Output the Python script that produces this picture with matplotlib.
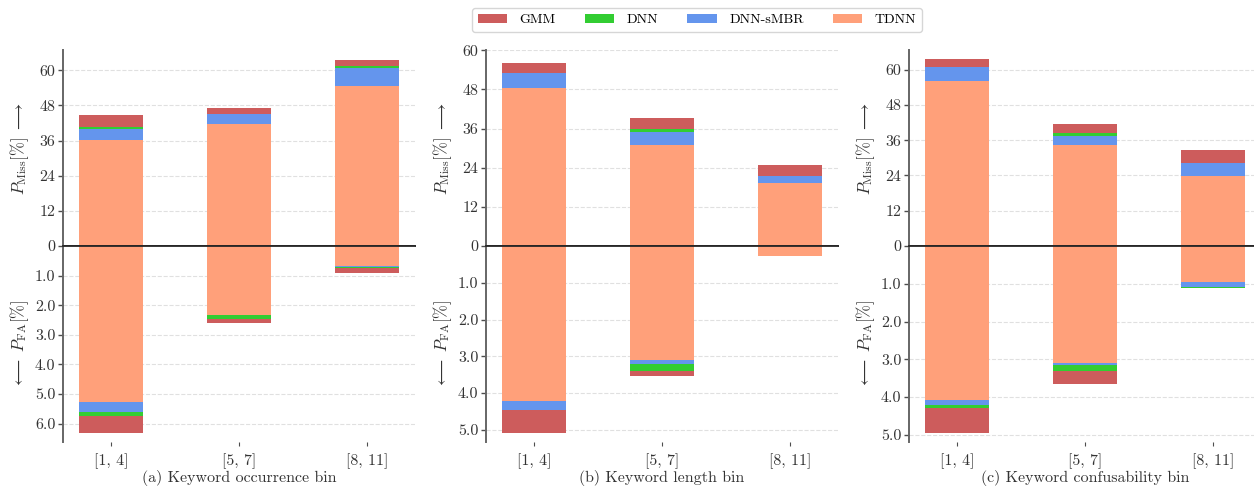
import numpy as np
import matplotlib
matplotlib.use('Agg')
import matplotlib.pyplot as plt

plt.rcParams['font.family'] = 'serif'
plt.rcParams['font.serif'] = ['cmr10']
plt.rcParams['mathtext.fontset'] = 'cm'
plt.rcParams['axes.formatter.use_mathtext'] = True

models = ['GMM', 'DNN', 'DNN-sMBR', 'TDNN']
colors = ['indianred', 'limegreen', 'cornflowerblue', 'lightsalmon']
bins = ['[1, 4]', '[5, 7]', '[8, 11]']

# rows: GMM, DNN, DNN-sMBR, TDNN ; columns: bins
miss_occ = [[44.7, 47.1, 63.5],
            [40.6, 44.0, 61.5],
            [39.9, 45.0, 60.7],
            [36.2, 41.6, 54.6]]
fa_occ = [[6.32, 2.60, 0.91],
          [5.74, 2.48, 0.74],
          [5.62, 2.30, 0.71],
          [5.28, 2.34, 0.67]]

miss_len = [[56.1, 39.3, 24.8],
            [52.0, 36.0, 21.0],
            [52.9, 35.1, 21.5],
            [48.6, 31.0, 19.3]]
fa_len = [[5.08, 3.54, 0.25],
          [4.40, 3.41, 0.25],
          [4.47, 3.20, 0.25],
          [4.22, 3.11, 0.27]]

miss_conf = [[63.6, 41.5, 32.7],
             [60.0, 38.4, 27.0],
             [60.9, 37.6, 28.2],
             [56.1, 34.4, 23.9]]
fa_conf = [[4.95, 3.65, 1.05],
           [4.29, 3.31, 1.11],
           [4.21, 3.16, 1.09],
           [4.08, 3.10, 0.96]]

panel_titles = ['(a) Keyword occurrence bin', '(b) Keyword length bin',
                '(c) Keyword confusability bin']
miss_ticks = [0, 12, 24, 36, 48, 60]
fa_ticks_list = [[1, 2, 3, 4, 5, 6], [1, 2, 3, 4, 5], [1, 2, 3, 4, 5]]

FS = 11.5


def style_axis(ax):
    for s in ['top', 'right', 'bottom']:
        ax.spines[s].set_visible(False)
    ax.spines['left'].set_color('0.4')
    ax.spines['left'].set_linewidth(1.4)
    ax.tick_params(axis='y', length=3.5, width=1, color='0.3',
                   labelsize=FS, labelcolor='0.2', pad=2)
    ax.yaxis.grid(True, linestyle='--', color='0.88', linewidth=0.8)
    ax.set_axisbelow(True)


def draw_panel(left, miss, fa, miss_top, fa_bottom, fa_ticks, title):
    w = 352 / 1254
    ax_top = fig.add_axes([left, (486 - 246) / 486, w, 196 / 486])
    ax_bot = fig.add_axes([left, (486 - 442) / 486, w, 196 / 486], sharex=ax_top)
    x = np.arange(len(bins))
    for m in range(len(models)):
        ax_top.bar(x, miss[m], width=0.5, color=colors[m], label=models[m], zorder=2)
        ax_bot.bar(x, fa[m], width=0.5, color=colors[m], zorder=2)

    style_axis(ax_top)
    style_axis(ax_bot)
    ax_top.set_ylim(0, miss_top)
    ax_top.set_yticks(miss_ticks)
    ax_top.set_yticklabels([str(t) for t in miss_ticks])
    ax_top.tick_params(axis='x', bottom=False, labelbottom=False)

    ax_bot.set_ylim(fa_bottom, 0)
    ax_bot.set_yticks(fa_ticks)
    ax_bot.set_yticklabels(['%.1f' % t for t in fa_ticks])
    ax_bot.set_xticks(x)
    ax_bot.set_xticklabels(bins)
    ax_bot.tick_params(axis='x', length=3, width=0.8, color='0.3',
                       labelsize=FS, labelcolor='0.2', pad=5)
    ax_bot.set_xlabel(title, fontsize=FS, color='0.2', labelpad=1)

    # zero line shared by both halves
    for ax in (ax_top, ax_bot):
        ax.axhline(0, color='0.15', linewidth=1.3, zorder=3, clip_on=False)

    ax_top.set_ylabel(r'$P_{\rm Miss}[\%]\ \longrightarrow$', fontsize=FS + 0.5, color='0.2')
    ax_bot.set_ylabel(r'$\longleftarrow\ P_{\rm FA}[\%]$', fontsize=FS + 0.5, color='0.2')
    ax_top.yaxis.set_label_coords(-0.09, 0.5)
    ax_bot.yaxis.set_label_coords(-0.09, 0.5)
    return ax_top


fig = plt.figure(figsize=(12.54, 4.86), dpi=100)

ax_a = draw_panel(63 / 1254, miss_occ, fa_occ, 66.9, 6.62, fa_ticks_list[0], panel_titles[0])
draw_panel(486 / 1254, miss_len, fa_len, 60.1, 5.33, fa_ticks_list[1], panel_titles[1])
draw_panel(909 / 1254, miss_conf, fa_conf, 66.7, 5.19, fa_ticks_list[2], panel_titles[2])

handles, labels = ax_a.get_legend_handles_labels()
fig.legend(handles, labels, loc='center', bbox_to_anchor=(697 / 1254, 0.959),
           ncol=4, fontsize=10, handlelength=2.1, handletextpad=0.9,
           columnspacing=2.1, frameon=True, edgecolor='0.8', fancybox=True)

fig.savefig('out.png', dpi=100)
